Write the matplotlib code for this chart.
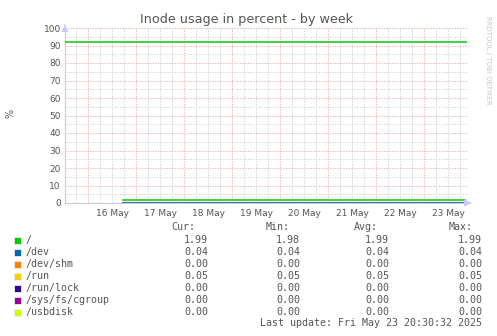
import numpy as np
import matplotlib
matplotlib.use("Agg")
import matplotlib.pyplot as plt
import matplotlib.dates as mdates
from datetime import datetime, timedelta

W, H = 497, 336

# data
names = ["/", "/dev", "/dev/shm", "/run", "/run/lock", "/sys/fs/cgroup", "/usbdisk"]
colors = ["#00CC00", "#0066B3", "#FF8000", "#FFCC00", "#330099", "#990099", "#CCFF00"]
cur = [1.99, 0.04, 0.00, 0.05, 0.00, 0.00, 0.00]
vmin = [1.98, 0.04, 0.00, 0.05, 0.00, 0.00, 0.00]
avg = [1.99, 0.04, 0.00, 0.05, 0.00, 0.00, 0.00]
vmax = [1.99, 0.04, 0.00, 0.05, 0.00, 0.00, 0.00]
data_times = [datetime(2025, 5, 16, 17, 30), datetime(2025, 5, 23, 20, 30)]
warning = 92
t_start = datetime(2025, 5, 15, 12, 30)
t_end = datetime(2025, 5, 23, 21, 30)
day_labels = ["16 May", "17 May", "18 May", "19 May", "20 May", "21 May", "22 May", "23 May"]

def fx(x):
    return x / W

def fy(y):
    return 1 - y / H

fig = plt.figure(figsize=(W / 100, H / 100), dpi=100)
fig.patch.set_facecolor("white")
ax = fig.add_axes([fx(65), fy(203), fx(467) - fx(65), fy(28) - fy(203)])
ax.set_facecolor("white")

x0, x1 = mdates.date2num(t_start), mdates.date2num(t_end)
ax.set_xlim(x0, x1)
ax.set_ylim(0, 100)

# grid
red = "#f0b4b4"
grey = "#d4d4d4"
t = datetime(2025, 5, 15, 18)
while t < t_end:
    xv = mdates.date2num(t)
    if t.hour == 0:
        ax.axvline(xv, color=red, lw=0.7, ls=(0, (1.4, 1.4)), zorder=1)
    else:
        ax.axvline(xv, color=grey, lw=0.7, ls=(0, (1.4, 1.4)), zorder=0)
    t += timedelta(hours=6)
for yv in range(5, 100, 5):
    if yv % 10 == 0:
        ax.axhline(yv, color=red, lw=0.7, ls=(0, (1.4, 1.4)), zorder=1)
    else:
        ax.axhline(yv, color=grey, lw=0.7, ls=(0, (1.4, 1.4)), zorder=0)
ax.axhline(100, color=red, lw=0.7, ls=(0, (1.4, 1.4)), zorder=1)

# series
ax.axhline(warning, color=colors[0], lw=1.1, zorder=3)
xs = mdates.date2num(data_times)
for i in range(len(names) - 1, -1, -1):
    ax.plot(xs, [avg[i], avg[i]], color=colors[i], lw=1.1, zorder=3 if i == 0 else 2)

# axes
for s in ["top", "right"]:
    ax.spines[s].set_visible(False)
axc = "#c8c8f0"
ax.spines["left"].set_color(axc)
ax.spines["bottom"].set_color(axc)
ax.annotate("", xy=(x0, 103.5), xytext=(x0, 100), annotation_clip=False,
            arrowprops=dict(arrowstyle="-|>,head_width=0.2,head_length=0.4", color=axc, lw=0.8))
ax.annotate("", xy=(x1 + 0.09, 0), xytext=(x1, 0), annotation_clip=False,
            arrowprops=dict(arrowstyle="-|>,head_width=0.2,head_length=0.4", color=axc, lw=0.8))

ax.set_yticks(range(0, 101, 10))
noons = [mdates.date2num(datetime(2025, 5, 16 + i, 12)) for i in range(8)]
ax.set_xticks(noons)
ax.set_xticklabels(day_labels)
ax.tick_params(axis="both", length=0, labelsize=6.5, colors="#555555", pad=3)
ax.tick_params(axis="x", pad=4)

fig.text(fx(247), fy(19), "Inode usage in percent - by week", ha="center", va="center",
         fontsize=9.2, color="#555555")
fig.text(fx(10), fy(113), "%", rotation=90, ha="center", va="center", fontsize=7, color="#555555")
fig.text(fx(488), fy(60), "RRDTOOL / TOBI OETIKER", rotation=270, ha="center", va="center",
         fontsize=5, color="#c8c8c8")

# legend
mono = "DejaVu Sans Mono"
lc = "#555555"
fs = 7.2
fig.text(fx(195), fy(227), "Cur:", ha="right", va="center", family=mono, fontsize=fs, color=lc)
fig.text(fx(290), fy(227), "Min:", ha="right", va="center", family=mono, fontsize=fs, color=lc)
fig.text(fx(378), fy(227), "Avg:", ha="right", va="center", family=mono, fontsize=fs, color=lc)
fig.text(fx(473), fy(227), "Max:", ha="right", va="center", family=mono, fontsize=fs, color=lc)
for i, n in enumerate(names):
    yc = 240 + 12 * i
    fig.patches.append(plt.Rectangle((fx(14), fy(yc + 3.5)), 7 / W, 7 / H, transform=fig.transFigure,
                                     facecolor=colors[i], edgecolor="#eeeeee", lw=0.6))
    fig.text(fx(26), fy(yc), n, ha="left", va="center", family=mono, fontsize=fs, color=lc)
    for xr, vals in [(208, cur), (300, vmin), (389, avg), (482, vmax)]:
        fig.text(fx(xr), fy(yc), "%.2f" % vals[i], ha="right", va="center", family=mono,
                 fontsize=fs, color=lc)
fig.text(fx(482), fy(323), "Last update: Fri May 23 20:30:32 2025", ha="right", va="center",
         family=mono, fontsize=fs, color=lc)

fig.savefig("out.png", dpi=100, facecolor="white")
